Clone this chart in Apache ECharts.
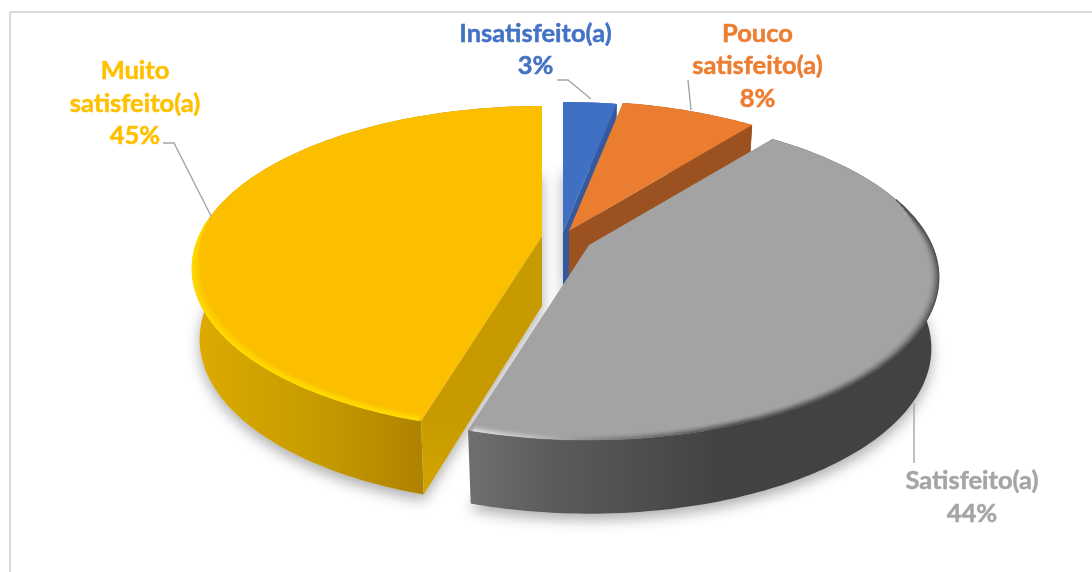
<!DOCTYPE html>
<html><head><meta charset="utf-8">
<style>html,body{margin:0;padding:0;background:#fff}#c{width:1092px;height:572px}</style>
<script src="https://cdn.jsdelivr.net/npm/echarts@6/dist/echarts.min.js"></script>
</head><body><div id="c"></div>
<script>
// ---- data ----
const categories = ['Insatisfeito(a)', 'Pouco satisfeito(a)', 'Satisfeito(a)', 'Muito satisfeito(a)'];
const labelTexts = ['Insatisfeito(a)', 'Pouco\nsatisfeito(a)', 'Satisfeito(a)', 'Muito\nsatisfeito(a)'];
const values = [3.0, 7.6, 44.0, 45.4];

// ---- styles and layout ----
const topColors = ['#4070C4', '#EA7D30', '#A3A3A3', '#FBBF00'];
const textColors = ['#4472C4', '#ED7D31', '#A5A5A5', '#FFC000'];
const cutColors = ['#35599C', '#9C5220', null, '#C79B00'];
const apexes = [[563, 232], [569, 231], [589, 245], [542, 236]];
const labelAnchors = [[535.5, 50], [757.5, 66], [972, 497.5], [135, 103.5]];
const leaders = [
  [[557, 80], [568, 80], [591, 99]],
  [[688, 80], [691, 110]],
  [[914, 403], [914, 463]],
  [[163, 143], [174, 143], [211, 216]]
];
const RX = 343, RY = 156, PERSP = 0.2, DEPTH = 70, DEPTH_TILT = 8, BOTTOM_SCALE = 0.978;

const total = values.reduce((a, b) => a + b, 0);
const starts = [];
values.reduce((acc, v, i) => { starts[i] = acc; return acc + v; }, 0);
const deg = v => v / total * 360;

function proj(apex, thetaDeg, r, bottom) {
  const t = thetaDeg * Math.PI / 180;
  const X = r * Math.sin(t), Y = r * Math.cos(t);
  const w = 1 + PERSP * Y;
  let x = RX * X / w, y = -RY * Y / w;
  if (bottom) {
    x *= BOTTOM_SCALE; y *= BOTTOM_SCALE;
    y += DEPTH - DEPTH_TILT * Y;
  }
  return [apex[0] + x, apex[1] + y];
}
function arc(apex, a0, a1, r, bottom) {
  const pts = [], n = Math.max(2, Math.ceil(Math.abs(a1 - a0)));
  for (let i = 0; i <= n; i++) pts.push(proj(apex, a0 + (a1 - a0) * i / n, r, bottom));
  return pts;
}
const LG = (x0, y0, x1, y1, stops) => new echarts.graphic.LinearGradient(x0, y0, x1, y1,
  stops.map(s => ({ offset: s[0], color: s[1] })), true);

const wallFills = [
  () => '#35599C',
  () => '#9C5220',
  () => LG(475, 0, 720, 0, [[0, '#6E6E6E'], [0.3, '#5C5C5C'], [1, '#424242']]),
  () => LG(195, 0, 425, 0, [[0, '#DDAA00'], [0.5, '#C89C00'], [1, '#AE8200']])
];

function renderSlice(params) {
  const i = params.dataIndex;
  const apex = apexes[i];
  const a0 = deg(starts[i]), a1 = a0 + deg(values[i]);
  const children = [];
  // outer wall
  const topArc = arc(apex, a0, a1, 1, false);
  const botArc = arc(apex, a0, a1, 1, true);
  children.push({ type: 'polygon', shape: { points: topArc.concat(botArc.slice().reverse()) },
    style: { fill: wallFills[i]() } });
  // the cut wall that faces the viewer
  if (cutColors[i]) {
    const ac = i === 3 ? a0 : a1;
    const pA = proj(apex, ac, 0, false), pB = proj(apex, ac, 1, false);
    const pC = proj(apex, ac, 1, true), pD = proj(apex, ac, 0, true);
    children.push({ type: 'polygon', shape: { points: [pA, pB, pC, pD] },
      style: { fill: i === 3 ? LG(0, 415, 0, 493, [[0, '#C79B00'], [1, '#D2A400']]) : cutColors[i] } });
  }
  // top face
  children.push({ type: 'polygon', shape: { points: [proj(apex, a0, 0, false)].concat(topArc) },
    style: { fill: topColors[i] } });
  // bevel bands on the rim
  if (i === 2) {
    const N = 8;
    for (let k = 0; k < N; k++) {
      const r = 0.999 - 0.0035 * k, al = 0.8 * (1 - k / N) * (1 - k / N);
      children.push({ type: 'polyline', shape: { points: arc(apex, 72 + k * 2, a1 - 0.6, r, false) },
        style: { fill: null, lineWidth: 1.5,
          stroke: LG(475, 0, 940, 0, [[0, 'rgba(225,225,225,' + al + ')'], [0.12, 'rgba(205,205,205,' + al * 0.7 + ')'], [0.28, 'rgba(110,110,110,' + al * 0.6 + ')'], [0.55, 'rgba(70,70,70,' + al + ')'], [1, 'rgba(64,64,64,' + al + ')']]) } });
    }
  }
  if (i === 3) {
    const N = 7;
    for (let k = 0; k < N; k++) {
      const r = 0.999 - 0.0035 * k, al = 0.95 * (1 - k / N);
      children.push({ type: 'polyline', shape: { points: arc(apex, a0 + 0.4, 276 - k * 3, r, false) },
        style: { fill: null, lineWidth: 1.5, stroke: 'rgba(255,220,0,' + al + ')' } });
    }
  }
  return { type: 'group', children };
}

function renderShadow(params) {
  const i = params.dataIndex;
  const apex = apexes[i];
  const a0 = deg(starts[i]), a1 = a0 + deg(values[i]);
  const pts = [proj(apex, a0, 0, true)].concat(arc(apex, a0, a1, 1, true));
  return { type: 'polygon', shape: { points: pts },
    style: { fill: '#ddd', shadowBlur: 14, shadowColor: 'rgba(0,0,0,0.32)', shadowOffsetX: 0, shadowOffsetY: 6 } };
}

function renderLabel(params) {
  const i = params.dataIndex;
  return { type: 'group', children: [
    { type: 'polyline', shape: { points: leaders[i] }, style: { fill: null, stroke: '#A5A5A5', lineWidth: 1.4 } },
    { type: 'text', x: labelAnchors[i][0], y: labelAnchors[i][1],
      style: { text: labelTexts[i] + '\n' + Math.round(values[i]) + '%', fill: textColors[i],
        stroke: textColors[i], lineWidth: 0.5,
        font: 'bold 25.5px Lato, "Open Sans", sans-serif', lineHeight: 32.5, align: 'center', verticalAlign: 'middle' } }
  ] };
}

const seriesData = categories.map((name, i) => ({ name, value: values[i] }));
const chart = echarts.init(document.getElementById('c'), null, { renderer: 'canvas' });
chart.setOption({
  animation: false,
  backgroundColor: '#fff',
  graphic: [
    { type: 'line', shape: { x1: 10, y1: 12, x2: 1092, y2: 12 }, style: { stroke: '#D9D9D9', lineWidth: 2 } },
    { type: 'line', shape: { x1: 10, y1: 12, x2: 10, y2: 572 }, style: { stroke: '#D9D9D9', lineWidth: 2 } }
  ],
  series: [
    { type: 'custom', coordinateSystem: 'none', z: 1, silent: true, renderItem: renderShadow, data: seriesData },
    { type: 'custom', coordinateSystem: 'none', z: 2, silent: true, renderItem: renderSlice, data: seriesData },
    { type: 'custom', coordinateSystem: 'none', z: 3, silent: true, renderItem: renderLabel, data: seriesData }
  ]
});
</script></body></html>
